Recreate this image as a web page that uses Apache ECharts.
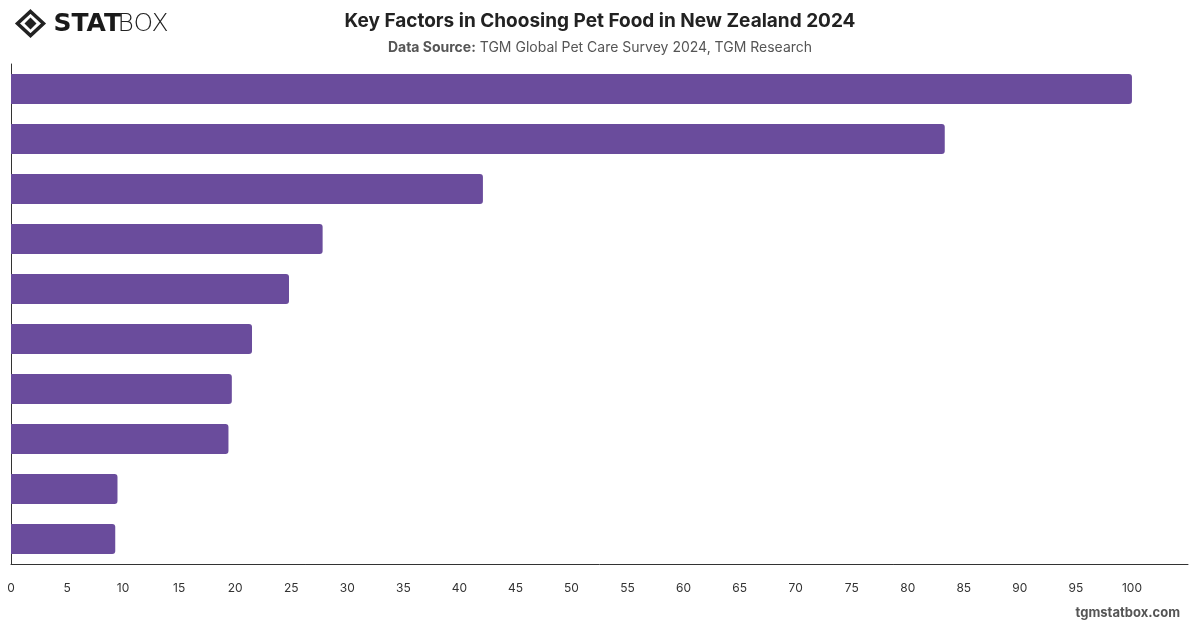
<!DOCTYPE html>
<html>
<head>
<meta charset="utf-8">
<script src="https://cdn.jsdelivr.net/npm/echarts@6/dist/echarts.min.js"></script>
<style>
  html, body { margin: 0; padding: 0; background: #fff; }
  #chart { width: 1200px; height: 628px; }
</style>
</head>
<body>
<div id="chart"></div>
<script>
// category names are hidden in the original chart
var categories = ['Factor 1', 'Factor 2', 'Factor 3', 'Factor 4', 'Factor 5',
  'Factor 6', 'Factor 7', 'Factor 8', 'Factor 9', 'Factor 10']
var values = [100, 83.3, 42.1, 27.8, 24.8, 21.5, 19.7, 19.4, 9.5, 9.3]
var xTicks = { min: 0, max: 105, interval: 5 }

var chart = echarts.init(document.getElementById('chart'))
var font = 'Inter, "Noto Sans", sans-serif'

chart.setOption({
  animation: false,
  title: [{
    text: 'Key Factors in Choosing Pet Food in New Zealand 2024',
    left: 'center',
    top: 7,
    textStyle: { fontFamily: font, fontSize: 19, fontWeight: 'bold', color: '#222' }
  }, {
    text: '{b|Data Source:} TGM Global Pet Care Survey 2024, TGM Research',
    left: 'center',
    top: 36,
    textStyle: {
      fontFamily: font, fontSize: 14, fontWeight: 'normal', color: '#555',
      rich: { b: { fontFamily: font, fontSize: 14, fontWeight: 'bold', color: '#555' } }
    }
  }],
  graphic: [
    {
      type: 'group',
      left: 15,
      top: 9,
      children: [
        { type: 'polygon', shape: { points: [[13, 0], [26, 12], [13, 24], [0, 12]] },
          style: { fill: 'none', stroke: '#222', lineWidth: 3.5 } },
        { type: 'polygon', shape: { points: [[13, 6], [19, 12], [13, 18], [7, 12]] },
          style: { fill: '#222' } },
        { type: 'text', x: 36, y: 0,
          style: { text: 'STAT', font: '900 25px "DejaVu Sans", sans-serif', fill: '#1a1a1a' } },
        { type: 'text', x: 100, y: 0,
          style: { text: 'BOX', font: '300 25px "DejaVu Sans", sans-serif', fill: '#222' } }
      ]
    },
    {
      type: 'text',
      right: 20,
      top: 607,
      style: { text: 'tgmstatbox.com', font: 'bold 13px Inter, sans-serif', fill: '#555' }
    }
  ],
  grid: { left: 11, right: 12, top: 64, bottom: 64, containLabel: false },
  xAxis: {
    type: 'value',
    min: xTicks.min,
    max: xTicks.max,
    interval: xTicks.interval,
    splitLine: { show: false },
    axisLine: { show: true, lineStyle: { color: '#333', width: 1 } },
    axisTick: { show: false },
    axisLabel: { color: '#333', fontFamily: font, fontSize: 12, margin: 18, showMaxLabel: false }
  },
  yAxis: {
    type: 'category',
    data: categories,
    inverse: true,
    axisLine: { show: true, lineStyle: { color: '#333', width: 1 } },
    axisTick: { show: false },
    axisLabel: { show: false }
  },
  series: [{
    type: 'bar',
    data: values,
    barWidth: 30,
    itemStyle: { color: '#6a4c9c', borderRadius: [0, 3, 3, 0] }
  }]
})
</script>
</body>
</html>
